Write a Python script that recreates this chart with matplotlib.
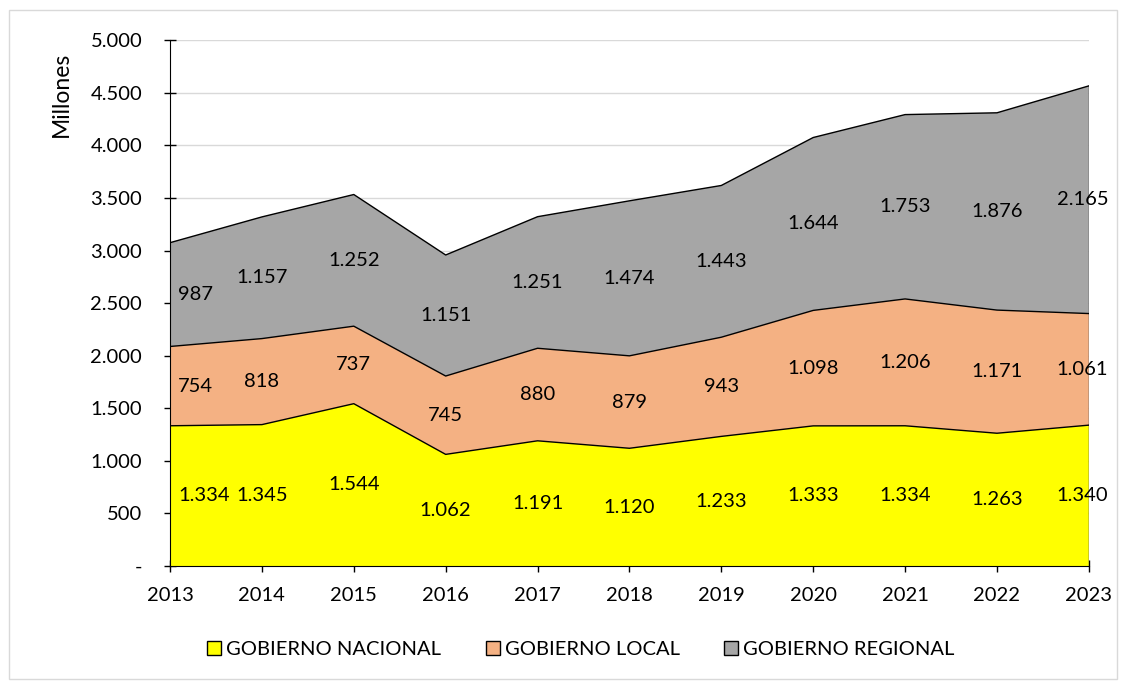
import matplotlib
matplotlib.use("Agg")
import matplotlib.pyplot as plt
import numpy as np
from matplotlib.ticker import FuncFormatter
from matplotlib.patches import Rectangle

plt.rcParams['font.family'] = ['Lato', 'DejaVu Sans']

years = [2013, 2014, 2015, 2016, 2017, 2018, 2019, 2020, 2021, 2022, 2023]
nacional = [1334, 1345, 1544, 1062, 1191, 1120, 1233, 1333, 1334, 1263, 1340]
local = [754, 818, 737, 745, 880, 879, 943, 1098, 1206, 1171, 1061]
regional = [987, 1157, 1252, 1151, 1251, 1474, 1443, 1644, 1753, 1876, 2165]
series_names = ["GOBIERNO NACIONAL", "GOBIERNO LOCAL", "GOBIERNO REGIONAL"]
colors = ["#FFFF00", "#F4B183", "#A6A6A6"]

fig = plt.figure(figsize=(11.26, 6.82), dpi=100)
ax = fig.add_axes([0.151, 0.170, 0.816, 0.771])

fig.patches.append(Rectangle((0.008, 0.004), 0.984, 0.982, transform=fig.transFigure,
                             fill=False, edgecolor="#D9D9D9", linewidth=1.0))

x = np.array(years)
data = [np.array(nacional), np.array(local), np.array(regional)]
base = np.zeros(len(x))
fs = 14.5
for i, (vals, name, c) in enumerate(zip(data, series_names, colors)):
    top = base + vals
    ax.fill_between(x, base, top, facecolor=c, edgecolor="none", label=name, zorder=2)
    ax.plot(x, top, color="black", linewidth=1.0, zorder=3)
    for j, (xx, b, v) in enumerate(zip(x, base, vals)):
        lbl = f"{v:,}".replace(",", ".")
        ymid = b + v / 2
        if j == 0:
            ax.annotate(lbl, (xx, ymid), xytext=(6, 0), textcoords="offset points",
                        ha="left", va="center", fontsize=fs, zorder=5)
        elif j == len(x) - 1:
            ax.annotate(lbl, (xx, ymid), xytext=(14, 0), textcoords="offset points",
                        ha="right", va="center", fontsize=fs, zorder=5)
        else:
            ax.text(xx, ymid, lbl, ha="center", va="center", fontsize=fs, zorder=5)
    base = top

ax.plot([x[-1], x[-1]], [0, base[-1]], color="black", linewidth=1.0, zorder=3)

ax.set_xlim(2013, 2023)
ax.set_ylim(0, 5000)
ax.set_xticks(years)
ax.set_yticks(np.arange(0, 5001, 500))
ax.yaxis.set_major_formatter(FuncFormatter(lambda v, p: "-" if v == 0 else f"{int(v):,}".replace(",", ".")))
ax.grid(axis="y", color="#D9D9D9", linewidth=1.0, zorder=0)
ax.set_axisbelow(True)
for s in ["top", "right"]:
    ax.spines[s].set_visible(False)
ax.spines["left"].set_color("black")
ax.spines["bottom"].set_color("black")
ax.tick_params(axis="both", direction="inout", length=8, width=1.0, labelsize=fs)
ax.tick_params(axis="y", pad=16)
ax.tick_params(axis="x", pad=11)
ax.set_ylabel("Millones", fontsize=16.5)
ax.yaxis.set_label_coords(-0.107, 0.897)

handles = [Rectangle((0, 0), 1, 1, facecolor=c, edgecolor="black", linewidth=1.0) for c in colors]
fig.legend(handles, series_names, loc="center", bbox_to_anchor=(0.516, 0.048), ncol=3,
           frameon=False, fontsize=fs, handlelength=0.7, handleheight=0.7,
           handletextpad=0.25, columnspacing=2.2)

fig.savefig("out.png", dpi=100)
